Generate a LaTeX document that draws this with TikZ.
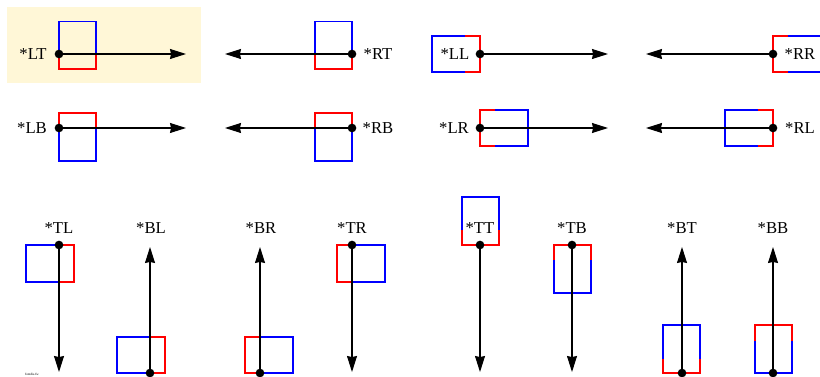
\documentclass[tikz,border=0pt]{standalone}
\usepackage{fontspec}
\setmainfont{Liberation Serif}
\usetikzlibrary{arrows.meta}

\definecolor{notecream}{RGB}{255,247,215}

\begin{document}
\begin{tikzpicture}[
  x=0.75pt, y=-0.75pt,
  dotnode/.style={%
    circle,%
    fill=black,%
    inner sep=0pt,%
    minimum size=6.5pt%
  },
  tagnode/.style={%
    font=\fontsize{12.5}{14}\selectfont,%
    inner sep=0pt%
  },
  arrowline/.style={%
    -{Stealth[length=12pt,width=7.5pt,inset=0.8pt]},%
    line width=0.8pt%
  },
  bluepart/.style={draw=blue, line width=0.8pt},
  redpart/.style={draw=red, line width=0.8pt}
]

  \useasboundingbox (0,0) rectangle (820,377);
  \fill [notecream] (7,7) rectangle (201,83);

  % boxes, row 1
  \draw [bluepart] (59,54) -- (59,21.5) -- (96,21.5) -- (96,54);
  \draw [redpart]  (59,54) -- (59,69) -- (96,69) -- (96,54);
  \draw [bluepart] (315,54) -- (315,21.5) -- (352,21.5) -- (352,54);
  \draw [redpart]  (315,54) -- (315,69) -- (352,69) -- (352,54);
  \draw [bluepart] (465,36) -- (432,36) -- (432,72) -- (465,72);
  \draw [redpart]  (465,36) -- (480,36) -- (480,72) -- (465,72);
  \draw [redpart]  (788,36) -- (773,36) -- (773,72) -- (788,72);
  \draw [bluepart] (788,36) -- (821,36) -- (821,72) -- (788,72);

  % boxes, row 2
  \draw [redpart]  (59,128) -- (59,113) -- (96,113) -- (96,128);
  \draw [bluepart] (59,128) -- (59,161) -- (96,161) -- (96,128);
  \draw [redpart]  (315,128) -- (315,113) -- (352,113) -- (352,128);
  \draw [bluepart] (315,128) -- (315,161) -- (352,161) -- (352,128);
  \draw [redpart]  (495,110) -- (480,110) -- (480,146) -- (495,146);
  \draw [bluepart] (495,110) -- (528,110) -- (528,146) -- (495,146);
  \draw [bluepart] (758,110) -- (725,110) -- (725,146) -- (758,146);
  \draw [redpart]  (758,110) -- (773,110) -- (773,146) -- (758,146);

  % boxes, row 3
  \draw [bluepart] (59,245) -- (26,245) -- (26,282) -- (59,282);
  \draw [redpart]  (59,245) -- (74,245) -- (74,282) -- (59,282);
  \draw [bluepart] (150,337) -- (117,337) -- (117,373) -- (150,373);
  \draw [redpart]  (150,337) -- (165,337) -- (165,373) -- (150,373);
  \draw [redpart]  (260,337) -- (245,337) -- (245,373) -- (260,373);
  \draw [bluepart] (260,337) -- (293,337) -- (293,373) -- (260,373);
  \draw [redpart]  (352,245) -- (337,245) -- (337,282) -- (352,282);
  \draw [bluepart] (352,245) -- (385,245) -- (385,282) -- (352,282);
  \draw [bluepart] (462,230) -- (462,197) -- (499,197) -- (499,230);
  \draw [redpart]  (462,230) -- (462,245) -- (499,245) -- (499,230);
  \draw [redpart]  (554,260) -- (554,245) -- (591,245) -- (591,260);
  \draw [bluepart] (554,260) -- (554,293) -- (591,293) -- (591,260);
  \draw [bluepart] (663,359) -- (663,325) -- (700,325) -- (700,359);
  \draw [redpart]  (663,359) -- (663,373) -- (700,373) -- (700,359);
  \draw [redpart]  (755,341) -- (755,325) -- (792,325) -- (792,341);
  \draw [bluepart] (755,341) -- (755,373) -- (792,373) -- (792,341);

  % anchor dots
  \node [dotnode] (lt) at (59,54) {};
  \node [dotnode] (rt) at (352,54) {};
  \node [dotnode] (ll) at (480,54) {};
  \node [dotnode] (rr) at (773,54) {};
  \node [dotnode] (lb) at (59,128) {};
  \node [dotnode] (rb) at (352,128) {};
  \node [dotnode] (lr) at (480,128) {};
  \node [dotnode] (rl) at (773,128) {};
  \node [dotnode] (tl) at (59,245) {};
  \node [dotnode] (bl) at (150,373) {};
  \node [dotnode] (br) at (260,373) {};
  \node [dotnode] (tr) at (352,245) {};
  \node [dotnode] (tt) at (480,245) {};
  \node [dotnode] (tb) at (572,245) {};
  \node [dotnode] (bt) at (682,373) {};
  \node [dotnode] (bb) at (773,373) {};

  % arrow ends
  \coordinate (ltend) at (186,54);
  \coordinate (rtend) at (225,54);
  \coordinate (llend) at (608,54);
  \coordinate (rrend) at (646,54);
  \coordinate (lbend) at (186,128);
  \coordinate (rbend) at (225,128);
  \coordinate (lrend) at (608,128);
  \coordinate (rlend) at (646,128);
  \coordinate (tlend) at (59,372);
  \coordinate (blend) at (150,247);
  \coordinate (brend) at (260,247);
  \coordinate (trend) at (352,372);
  \coordinate (ttend) at (480,372);
  \coordinate (tbend) at (572,372);
  \coordinate (btend) at (682,247);
  \coordinate (bbend) at (773,247);

  \draw [arrowline] (lt.center) -- (ltend);
  \draw [arrowline] (rt.center) -- (rtend);
  \draw [arrowline] (ll.center) -- (llend);
  \draw [arrowline] (rr.center) -- (rrend);
  \draw [arrowline] (lb.center) -- (lbend);
  \draw [arrowline] (rb.center) -- (rbend);
  \draw [arrowline] (lr.center) -- (lrend);
  \draw [arrowline] (rl.center) -- (rlend);
  \draw [arrowline] (tl.center) -- (tlend);
  \draw [arrowline] (bl.center) -- (blend);
  \draw [arrowline] (br.center) -- (brend);
  \draw [arrowline] (tr.center) -- (trend);
  \draw [arrowline] (tt.center) -- (ttend);
  \draw [arrowline] (tb.center) -- (tbend);
  \draw [arrowline] (bt.center) -- (btend);
  \draw [arrowline] (bb.center) -- (bbend);

  % tags
  \node [tagnode] (lttag) at (33,54)   {*LT};
  \node [tagnode] (rttag) at (378,54)  {*RT};
  \node [tagnode] (lltag) at (455,54)  {*LL};
  \node [tagnode] (rrtag) at (800,54)  {*RR};
  \node [tagnode] (lbtag) at (32,128)  {*LB};
  \node [tagnode] (rbtag) at (378,128) {*RB};
  \node [tagnode] (lrtag) at (454,128) {*LR};
  \node [tagnode] (rltag) at (800,128) {*RL};
  \node [tagnode] (tltag) at (59,228)  {*TL};
  \node [tagnode] (bltag) at (151,228) {*BL};
  \node [tagnode] (brtag) at (261,228) {*BR};
  \node [tagnode] (trtag) at (352,228) {*TR};
  \node [tagnode] (tttag) at (480,228) {*TT};
  \node [tagnode] (tbtag) at (572,228) {*TB};
  \node [tagnode] (bttag) at (682,228) {*BT};
  \node [tagnode] (bbtag) at (773,228) {*BB};

  \node [font=\fontsize{2.5}{3}\selectfont, inner sep=0pt] (filetag) at (32,374) {fontdis.fw};

\end{tikzpicture}
\end{document}
